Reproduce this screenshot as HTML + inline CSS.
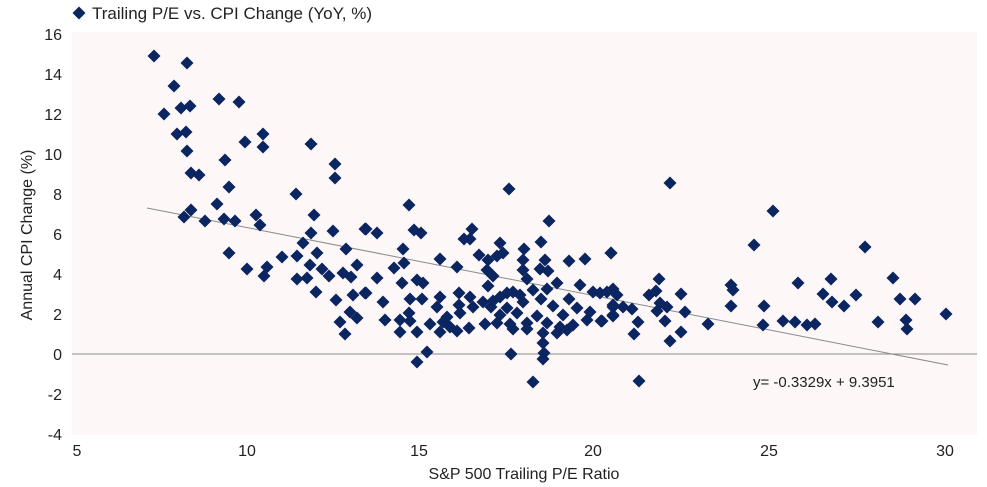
<!DOCTYPE html>
<html><head><meta charset="utf-8"><style>
body{margin:0;background:#fff;}
svg{display:block;font-family:"Liberation Sans",sans-serif;}
</style></head><body>
<svg width="987" height="487" viewBox="0 0 987 487" xmlns="http://www.w3.org/2000/svg">
<defs><polygon id="d" points="0,-6.5 6.5,0 0,6.5 -6.5,0" fill="#0b2560"/></defs>
<rect x="72" y="32" width="905" height="403" fill="#fdf7f7"/>
<line x1="72" y1="354" x2="977" y2="354" stroke="#8a8a8a" stroke-width="1"/>
<line x1="147" y1="208" x2="948" y2="365" stroke="#8a8a8a" stroke-width="1"/>
<g font-size="16" fill="#222" text-anchor="end">
<text x="62" y="40">16</text><text x="62" y="80">14</text><text x="62" y="120">12</text><text x="62" y="160">10</text>
<text x="62" y="200">8</text><text x="62" y="240">6</text><text x="62" y="280">4</text><text x="62" y="320">2</text>
<text x="62" y="360">0</text><text x="62" y="400">-2</text><text x="62" y="440">-4</text>
</g>
<g font-size="16" fill="#222" text-anchor="middle">
<text x="77" y="456">5</text><text x="247" y="456">10</text><text x="419" y="456">15</text>
<text x="593" y="456">20</text><text x="769" y="456">25</text><text x="945" y="456">30</text>
<text x="524" y="479">S&amp;P 500 Trailing P/E Ratio</text>
</g>
<text transform="translate(32,235) rotate(-90)" font-size="16" fill="#222" text-anchor="middle">Annual CPI Change (%)</text>
<use href="#d" x="79" y="13"/>
<text x="92" y="19" font-size="17" fill="#222">Trailing P/E vs. CPI Change (YoY, %)</text>
<text x="753" y="387" font-size="15" fill="#222">y= -0.3329x + 9.3951</text>
<g>
<use href="#d" x="154" y="56"/><use href="#d" x="187" y="63"/><use href="#d" x="174" y="86"/><use href="#d" x="219" y="99"/><use href="#d" x="239" y="102"/><use href="#d" x="164" y="114"/><use href="#d" x="181" y="108"/><use href="#d" x="190" y="106"/><use href="#d" x="177" y="134"/><use href="#d" x="186" y="132"/><use href="#d" x="245" y="142"/><use href="#d" x="263" y="134"/><use href="#d" x="263" y="147"/><use href="#d" x="311" y="144"/><use href="#d" x="187" y="151"/><use href="#d" x="225" y="160"/><use href="#d" x="335" y="164"/><use href="#d" x="335" y="178"/><use href="#d" x="191" y="173"/><use href="#d" x="199" y="175"/><use href="#d" x="229" y="187"/><use href="#d" x="296" y="194"/><use href="#d" x="217" y="204"/><use href="#d" x="191" y="210"/><use href="#d" x="184" y="217"/><use href="#d" x="205" y="221"/><use href="#d" x="224" y="219"/><use href="#d" x="235" y="221"/><use href="#d" x="256" y="215"/><use href="#d" x="260" y="225"/><use href="#d" x="314" y="215"/><use href="#d" x="311" y="233"/><use href="#d" x="333" y="231"/><use href="#d" x="365" y="229"/><use href="#d" x="303" y="243"/><use href="#d" x="229" y="253"/><use href="#d" x="297" y="256"/><use href="#d" x="282" y="257"/><use href="#d" x="317" y="253"/><use href="#d" x="346" y="249"/><use href="#d" x="247" y="269"/><use href="#d" x="267" y="267"/><use href="#d" x="264" y="276"/><use href="#d" x="310" y="265"/><use href="#d" x="322" y="269"/><use href="#d" x="329" y="276"/><use href="#d" x="343" y="273"/><use href="#d" x="357" y="265"/><use href="#d" x="351" y="277"/><use href="#d" x="297" y="279"/><use href="#d" x="307" y="278"/><use href="#d" x="316" y="292"/><use href="#d" x="353" y="295"/><use href="#d" x="365" y="293"/>
<use href="#d" x="336" y="300"/><use href="#d" x="350" y="312"/><use href="#d" x="340" y="322"/><use href="#d" x="357" y="318"/><use href="#d" x="345" y="334"/>
<use href="#d" x="509" y="189"/><use href="#d" x="409" y="205"/><use href="#d" x="549" y="221"/><use href="#d" x="366" y="229"/><use href="#d" x="377" y="233"/><use href="#d" x="414" y="230"/><use href="#d" x="421" y="233"/><use href="#d" x="472" y="229"/><use href="#d" x="464" y="239"/><use href="#d" x="470" y="239"/><use href="#d" x="500" y="243"/><use href="#d" x="541" y="242"/><use href="#d" x="403" y="249"/><use href="#d" x="524" y="249"/><use href="#d" x="440" y="259"/><use href="#d" x="479" y="255"/><use href="#d" x="488" y="260"/><use href="#d" x="497" y="256"/><use href="#d" x="503" y="253"/><use href="#d" x="523" y="260"/><use href="#d" x="545" y="260"/><use href="#d" x="569" y="261"/><use href="#d" x="585" y="259"/><use href="#d" x="611" y="253"/><use href="#d" x="404" y="263"/><use href="#d" x="394" y="268"/><use href="#d" x="457" y="267"/><use href="#d" x="487" y="270"/><use href="#d" x="523" y="270"/><use href="#d" x="540" y="269"/><use href="#d" x="548" y="271"/><use href="#d" x="377" y="278"/><use href="#d" x="417" y="280"/><use href="#d" x="423" y="283"/><use href="#d" x="402" y="283"/><use href="#d" x="493" y="276"/><use href="#d" x="527" y="279"/><use href="#d" x="488" y="286"/><use href="#d" x="557" y="283"/><use href="#d" x="580" y="285"/><use href="#d" x="366" y="293"/><use href="#d" x="593" y="292"/><use href="#d" x="607" y="292"/><use href="#d" x="459" y="293"/><use href="#d" x="513" y="292"/><use href="#d" x="533" y="290"/><use href="#d" x="547" y="289"/><use href="#d" x="383" y="302"/><use href="#d" x="410" y="299"/><use href="#d" x="422" y="299"/><use href="#d" x="440" y="297"/><use href="#d" x="470" y="297"/><use href="#d" x="483" y="302"/><use href="#d" x="493" y="301"/><use href="#d" x="500" y="297"/><use href="#d" x="507" y="293"/><use href="#d" x="520" y="295"/><use href="#d" x="569" y="299"/><use href="#d" x="541" y="299"/><use href="#d" x="617" y="295"/><use href="#d" x="437" y="307"/><use href="#d" x="459" y="305"/><use href="#d" x="473" y="307"/><use href="#d" x="491" y="307"/><use href="#d" x="507" y="308"/><use href="#d" x="523" y="302"/><use href="#d" x="553" y="306"/><use href="#d" x="577" y="308"/><use href="#d" x="613" y="307"/><use href="#d" x="409" y="313"/><use href="#d" x="400" y="320"/><use href="#d" x="385" y="320"/><use href="#d" x="447" y="317"/><use href="#d" x="460" y="313"/><use href="#d" x="500" y="315"/><use href="#d" x="517" y="313"/><use href="#d" x="537" y="316"/><use href="#d" x="563" y="315"/><use href="#d" x="590" y="312"/><use href="#d" x="613" y="315"/><use href="#d" x="410" y="321"/><use href="#d" x="430" y="324"/><use href="#d" x="443" y="322"/><use href="#d" x="450" y="327"/><use href="#d" x="497" y="323"/><use href="#d" x="510" y="324"/><use href="#d" x="527" y="323"/><use href="#d" x="547" y="323"/><use href="#d" x="560" y="327"/><use href="#d" x="573" y="325"/><use href="#d" x="587" y="320"/><use href="#d" x="601" y="321"/><use href="#d" x="400" y="332"/><use href="#d" x="417" y="332"/><use href="#d" x="440" y="332"/><use href="#d" x="457" y="331"/><use href="#d" x="469" y="328"/><use href="#d" x="485" y="324"/><use href="#d" x="513" y="329"/><use href="#d" x="527" y="329"/><use href="#d" x="543" y="333"/><use href="#d" x="557" y="333"/><use href="#d" x="567" y="330"/><use href="#d" x="543" y="343"/><use href="#d" x="427" y="352"/><use href="#d" x="417" y="362"/><use href="#d" x="511" y="354"/><use href="#d" x="544" y="353"/><use href="#d" x="543" y="359"/><use href="#d" x="533" y="382"/>
<use href="#d" x="670" y="183"/><use href="#d" x="773" y="211"/><use href="#d" x="611" y="253"/><use href="#d" x="754" y="245"/><use href="#d" x="865" y="247"/><use href="#d" x="659" y="279"/><use href="#d" x="731" y="285"/><use href="#d" x="733" y="290"/><use href="#d" x="798" y="283"/><use href="#d" x="831" y="279"/><use href="#d" x="893" y="278"/><use href="#d" x="613" y="289"/><use href="#d" x="600" y="293"/><use href="#d" x="649" y="295"/><use href="#d" x="656" y="291"/><use href="#d" x="681" y="294"/><use href="#d" x="823" y="294"/><use href="#d" x="856" y="295"/><use href="#d" x="900" y="299"/><use href="#d" x="915" y="299"/><use href="#d" x="832" y="302"/><use href="#d" x="844" y="306"/><use href="#d" x="613" y="305"/><use href="#d" x="623" y="307"/><use href="#d" x="632" y="309"/><use href="#d" x="660" y="303"/><use href="#d" x="667" y="307"/><use href="#d" x="657" y="311"/><use href="#d" x="685" y="312"/><use href="#d" x="731" y="306"/><use href="#d" x="764" y="306"/><use href="#d" x="946" y="314"/><use href="#d" x="602" y="321"/><use href="#d" x="613" y="316"/><use href="#d" x="638" y="322"/><use href="#d" x="665" y="321"/><use href="#d" x="708" y="324"/><use href="#d" x="763" y="325"/><use href="#d" x="783" y="321"/><use href="#d" x="795" y="322"/><use href="#d" x="807" y="325"/><use href="#d" x="815" y="324"/><use href="#d" x="878" y="322"/><use href="#d" x="906" y="320"/><use href="#d" x="907" y="329"/><use href="#d" x="634" y="334"/><use href="#d" x="681" y="332"/><use href="#d" x="670" y="341"/><use href="#d" x="639" y="381"/>
</g>
</svg>
</body></html>
